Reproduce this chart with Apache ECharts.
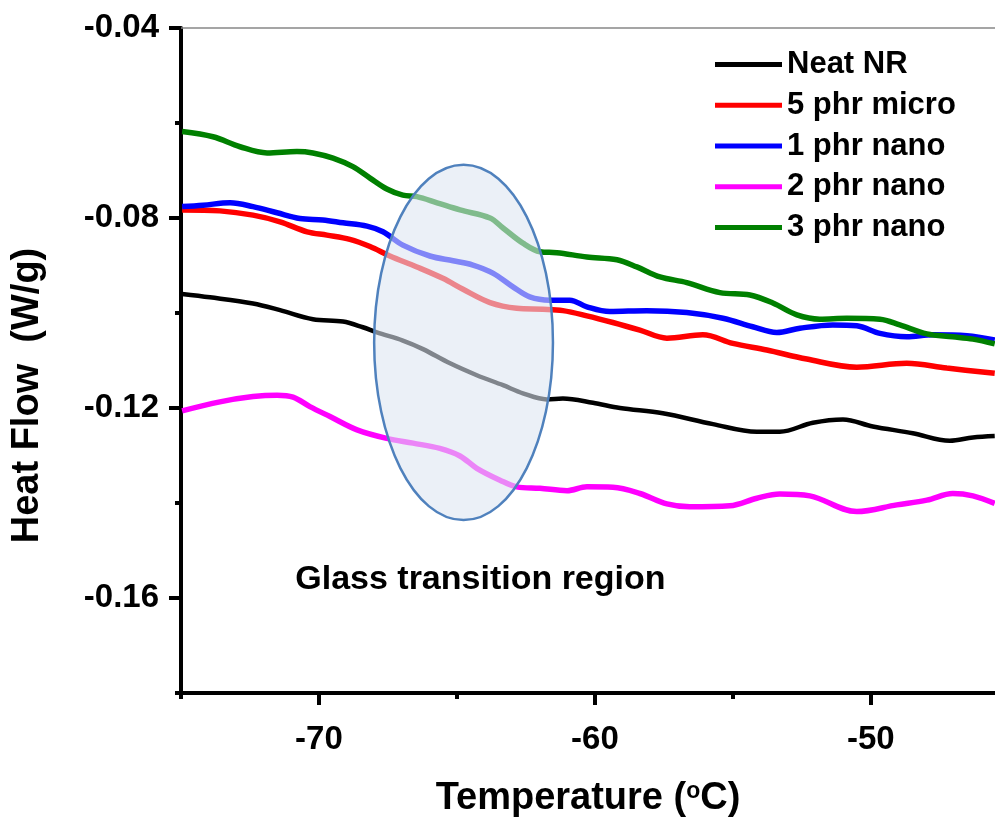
<!DOCTYPE html>
<html>
<head>
<meta charset="utf-8">
<script src="https://cdn.jsdelivr.net/npm/echarts@6.0.0/dist/echarts.min.js"></script>
<style>
  html, body { margin: 0; padding: 0; background: #fff; }
  #chart { width: 995px; height: 820px; }
</style>
</head>
<body>
<div id="chart"></div>
<script>
// values (temperature in °C, heat flow in W/g)
const seriesNames = ['Neat NR', '5 phr micro', '1 phr nano', '2 phr nano', '3 phr nano']
const seriesColors = ['#000000', '#ff0000', '#0000ff', '#ff00ff', '#008000']

const neatT = [-74.96, -73.95, -72.39, -71.41, -70.22, -69.13, -68.41, -67.9, -66.96, -66.23, -65.25, -64.28, -63.33, -62.61, -61.74, -61.16, -60.07, -59.09, -57.54, -55.72, -54.13, -53.3, -52.1, -51.01, -49.93, -48.48, -47.14, -46.3, -45.51]
const neatY = [-0.0960, -0.0967, -0.0980, -0.0994, -0.1013, -0.1018, -0.1030, -0.1041, -0.1058, -0.1076, -0.1106, -0.1131, -0.1152, -0.1169, -0.1182, -0.1180, -0.1189, -0.1200, -0.1211, -0.1234, -0.1250, -0.1250, -0.1231, -0.1224, -0.1239, -0.1253, -0.1269, -0.1262, -0.1259]

const microT = [-74.96, -73.59, -72.39, -71.41, -70.43, -69.71, -68.88, -68.15, -67.43, -66.45, -65.51, -64.78, -63.8, -62.83, -61.88, -61.16, -60.29, -59.35, -58.37, -57.39, -56.09, -55.0, -53.77, -52.32, -50.51, -48.7, -47.25, -45.51]
const microY = [-0.0783, -0.0785, -0.0794, -0.0808, -0.0829, -0.0836, -0.0845, -0.0860, -0.0880, -0.0903, -0.0927, -0.0950, -0.0978, -0.0990, -0.0992, -0.0995, -0.1006, -0.1020, -0.1036, -0.1053, -0.1046, -0.1064, -0.1078, -0.1097, -0.1114, -0.1106, -0.1116, -0.1127]

const nano1T = [-74.96, -74.2, -73.22, -72.39, -71.52, -70.69, -69.86, -69.13, -68.26, -67.68, -66.96, -65.98, -65.14, -64.42, -63.7, -62.97, -62.36, -61.63, -60.91, -60.29, -59.46, -58.12, -56.67, -55.36, -54.28, -53.41, -52.57, -51.38, -50.51, -49.67, -48.7, -47.75, -46.52, -45.51]
const nano1Y = [-0.0776, -0.0773, -0.0768, -0.0776, -0.0789, -0.0801, -0.0804, -0.0810, -0.0817, -0.0829, -0.0857, -0.0880, -0.0890, -0.0899, -0.0916, -0.0945, -0.0966, -0.0973, -0.0973, -0.0987, -0.0997, -0.0995, -0.0999, -0.1011, -0.1029, -0.1041, -0.1032, -0.1025, -0.1027, -0.1043, -0.1050, -0.1046, -0.1048, -0.1057]

const nano2T = [-74.96, -73.59, -72.39, -71.52, -70.94, -70.33, -69.6, -68.62, -67.54, -66.59, -65.62, -64.89, -64.28, -63.44, -62.83, -61.99, -61.01, -60.29, -59.35, -58.37, -57.39, -56.56, -55.11, -54.13, -53.3, -52.21, -50.51, -49.06, -47.97, -47.03, -46.3, -45.51]
const nano2Y = [-0.1206, -0.1187, -0.1176, -0.1173, -0.1177, -0.1197, -0.1218, -0.1246, -0.1264, -0.1274, -0.1285, -0.1301, -0.1327, -0.1352, -0.1366, -0.1369, -0.1374, -0.1366, -0.1367, -0.1380, -0.1402, -0.1408, -0.1406, -0.1390, -0.1381, -0.1385, -0.1418, -0.1404, -0.1394, -0.1380, -0.1385, -0.1401]

const nano3T = [-74.96, -73.84, -72.86, -71.88, -70.8, -70.22, -69.49, -68.77, -68.15, -67.54, -66.96, -66.45, -65.72, -64.89, -63.8, -63.33, -62.61, -61.99, -61.38, -60.29, -59.2, -58.48, -57.64, -56.67, -55.47, -54.38, -53.55, -52.68, -51.85, -50.87, -49.67, -48.95, -47.97, -47.03, -46.3, -45.51]
const nano3Y = [-0.0618, -0.0629, -0.0650, -0.0663, -0.0660, -0.0663, -0.0674, -0.0692, -0.0716, -0.0739, -0.0752, -0.0755, -0.0768, -0.0783, -0.0800, -0.0821, -0.0853, -0.0871, -0.0873, -0.0882, -0.0888, -0.0903, -0.0924, -0.0936, -0.0957, -0.0962, -0.0979, -0.1004, -0.1013, -0.1011, -0.1013, -0.1025, -0.1044, -0.1050, -0.1055, -0.1065]

const xMajorTicks = [-70, -60, -50]
const xMinorTicks = [-75, -65, -55]
const yMajorTicks = [-0.16, -0.12, -0.08, -0.04]
const yMinorTicks = [-0.18, -0.14, -0.10, -0.06]

// glass transition ellipse, in data units: [centre T, centre HF, radius T, radius HF]
const glassRegion = [-64.76, -0.1062, 3.24, 0.0374]
const glassLabel = 'Glass transition region'
const glassLabelPos = [-64.15, -0.1562]

const FONT = '"Liberation Sans", Arial, sans-serif'
const pairs = (t, v) => t.map((x, i) => [x, v[i]])
const allT = [neatT, microT, nano1T, nano2T, nano3T]
const allY = [neatY, microY, nano1Y, nano2Y, nano3Y]

const chart = echarts.init(document.getElementById('chart'))

const xBase = { type: 'value', min: -75, max: -45.5, splitLine: { show: false } }
const yBase = { type: 'value', min: -0.18, max: -0.04, splitLine: { show: false } }

chart.setOption({
  animation: false,
  backgroundColor: '#fff',
  grid: { left: 181, right: 0, top: 28, bottom: 127, outerBoundsMode: 'none' },
  legend: {
    orient: 'vertical',
    left: 710,
    top: 44,
    icon: 'rect',
    itemWidth: 67,
    itemHeight: 5,
    itemGap: 9.75,
    textStyle: { fontFamily: FONT, fontWeight: 'bold', fontSize: 31, lineHeight: 31, color: '#000' },
    data: seriesNames
  },
  xAxis: [
    {
      ...xBase,
      position: 'bottom',
      name: '{a|Temperature (}{s|o}{a|C)}',
      nameLocation: 'middle',
      nameGap: 87,
      nameTextStyle: {
        rich: {
          a: { fontFamily: FONT, fontWeight: 'bold', fontSize: 38, color: '#000' },
          s: { fontFamily: FONT, fontWeight: 'bold', fontSize: 23, color: '#000', verticalAlign: 'top', padding: [0, 0, 14, 0] }
        }
      },
      axisLine: { onZero: false, lineStyle: { color: '#000', width: 4 } },
      axisTick: { customValues: xMajorTicks, length: 12, lineStyle: { color: '#000', width: 4 } },
      axisLabel: { customValues: xMajorTicks, margin: 30, fontFamily: FONT, fontWeight: 'bold', fontSize: 33, color: '#000' }
    },
    {
      ...xBase,
      position: 'bottom',
      axisLine: { show: false, onZero: false },
      axisTick: { customValues: xMinorTicks, length: 6, lineStyle: { color: '#000', width: 4 } },
      axisLabel: { show: false }
    },
    {
      ...xBase,
      position: 'top',
      axisLine: { onZero: false, lineStyle: { color: '#888', width: 1.5 } },
      axisTick: { show: false },
      axisLabel: { show: false }
    }
  ],
  yAxis: [
    {
      ...yBase,
      position: 'left',
      name: 'Heat Flow  (W/g)',
      nameLocation: 'middle',
      nameGap: 134,
      nameTextStyle: { fontFamily: FONT, fontWeight: 'bold', fontSize: 38, color: '#000', padding: [0, 70, 0, 0] },
      axisLine: { onZero: false, lineStyle: { color: '#000', width: 4 } },
      axisTick: { customValues: yMajorTicks, length: 12, lineStyle: { color: '#000', width: 4 } },
      axisLabel: { customValues: yMajorTicks, margin: 22, fontFamily: FONT, fontWeight: 'bold', fontSize: 33, color: '#000' }
    },
    {
      ...yBase,
      position: 'left',
      axisLine: { show: false, onZero: false },
      axisTick: { customValues: yMinorTicks, length: 6, lineStyle: { color: '#000', width: 4 } },
      axisLabel: { show: false }
    }
  ],
  series: seriesNames.map((name, i) => ({
    name,
    type: 'line',
    xAxisIndex: 0,
    yAxisIndex: 0,
    data: pairs(allT[i], allY[i]),
    showSymbol: false,
    symbol: 'none',
    smooth: 0.35,
    color: seriesColors[i],
    lineStyle: { color: seriesColors[i], width: i === 0 ? 4.5 : 5.5 }
  }))
})

// ellipse and its caption, placed through the axes' own scales
const toPx = p => chart.convertToPixel({ xAxisIndex: 0, yAxisIndex: 0 }, p)
const [cT, cH, rT, rH] = glassRegion
const c = toPx([cT, cH])
const ex = toPx([cT + rT, cH])
const ey = toPx([cT, cH + rH])
const lp = toPx(glassLabelPos)

chart.setOption({
  graphic: [
    {
      type: 'ellipse',
      z: 10,
      shape: { cx: c[0], cy: c[1], rx: Math.abs(ex[0] - c[0]), ry: Math.abs(c[1] - ey[1]) },
      style: { fill: 'rgba(220,230,242,0.58)', stroke: '#4f81bd', lineWidth: 2.5 }
    },
    {
      type: 'text',
      z: 10,
      x: lp[0],
      y: lp[1],
      style: {
        text: glassLabel,
        fontFamily: FONT,
        fontWeight: 'bold',
        fontSize: 34,
        fill: '#000',
        align: 'center',
        verticalAlign: 'middle'
      }
    }
  ]
})
</script>
</body>
</html>
